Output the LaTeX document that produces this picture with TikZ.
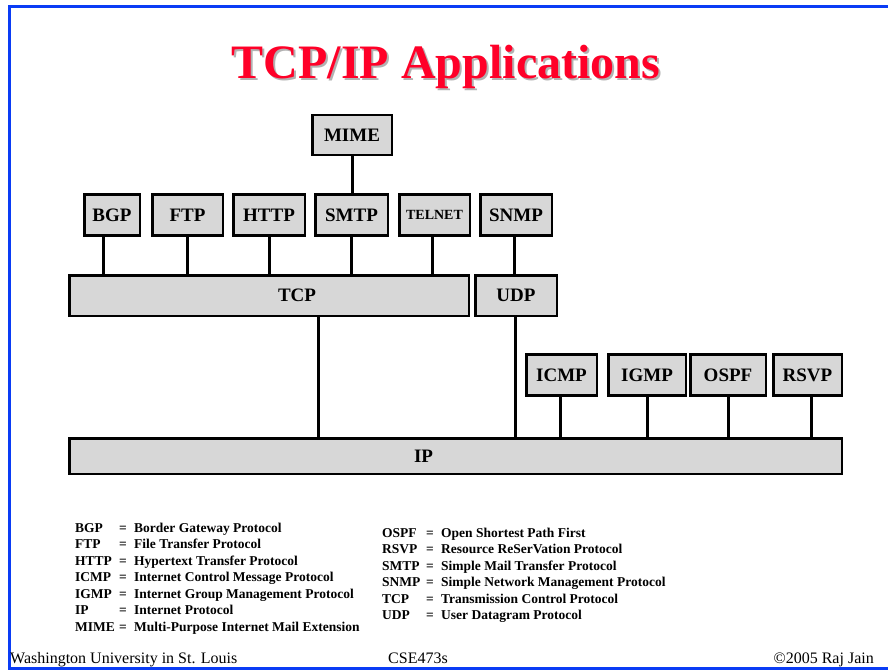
\documentclass[tikz,border=0pt]{standalone}
\usepackage{fontspec}
\setmainfont{Liberation Serif}
\usetikzlibrary{calc}
\definecolor{framebl}{RGB}{10,60,245}
\definecolor{titlered}{RGB}{255,0,40}
\definecolor{boxgray}{RGB}{215,215,215}
\newcommand{\legrow}[2]{\makebox[44pt][l]{#1}\makebox[15pt][l]{=}#2}
\begin{document}
\begin{tikzpicture}[x=1pt,y=-1pt,
  protbox/.style={draw=black,line width=2.5pt,fill=boxgray,inner sep=0pt,minimum height=41pt,font=\fontsize{19}{19}\selectfont\bfseries},
  link/.style={line width=3pt,draw=black},
  legtext/.style={anchor=base west,inner sep=0pt,font=\fontsize{13.5}{13.5}\selectfont\bfseries},
  foot/.style={inner sep=0pt,font=\fontsize{16}{16}\selectfont}]
\useasboundingbox (0,0) rectangle (888,671);
\fill[white] (0,0) rectangle (888,671);
\draw[framebl,line width=3pt] (888,7) -- (9,7) -- (9,668) -- (888,668);
% title
\node[anchor=base,inner sep=0pt,text=gray!60,font=\fontsize{48}{48}\selectfont\bfseries] (titleshadow) at (448,81) {TCP/IP Applications};
\node[anchor=base,inner sep=0pt,text=titlered,font=\fontsize{48}{48}\selectfont\bfseries] (title) at (446,79) {TCP/IP Applications};
% boxes
\node[protbox,minimum width=79.5pt,minimum height=40pt] (MIME) at (352,135) {MIME};
\node[protbox,minimum width=55.5pt] (BGP) at (112,215) {BGP};
\node[protbox,minimum width=70.5pt] (FTP) at (187.5,215) {FTP};
\node[protbox,minimum width=71.5pt] (HTTP) at (269,215) {HTTP};
\node[protbox,minimum width=72.5pt] (SMTP) at (351.5,215) {SMTP};
\node[protbox,minimum width=70.5pt,font=\fontsize{14}{14}\selectfont\bfseries] (TELNET) at (434.5,215) {TELNET};
\node[protbox,minimum width=71.5pt] (SNMP) at (516,215) {SNMP};
\node[protbox,minimum width=399.5pt,minimum height=40.5pt,label={[xshift=28pt,font=\fontsize{19}{19}\selectfont\bfseries]center:TCP}] (TCP) at (269,295.5) {};
\node[protbox,minimum width=81.5pt,minimum height=40.5pt] (UDP) at (516,295.5) {UDP};
\node[protbox,minimum width=70.5pt] (ICMP) at (561.5,375) {ICMP};
\node[protbox,minimum width=77.5pt] (IGMP) at (647,375) {IGMP};
\node[protbox,minimum width=75.5pt] (OSPF) at (728,375) {OSPF};
\node[protbox,minimum width=68.5pt] (RSVP) at (807.5,375) {RSVP};
\node[protbox,minimum width=772.5pt,minimum height=35.5pt,label={[xshift=-32pt,font=\fontsize{19}{19}\selectfont\bfseries]center:IP}] (IP) at (455.5,456) {};
% connectors
\draw[link] (MIME.south) -- (MIME.south |- SMTP.north);
\draw[link] ([xshift=-9pt]BGP.south) -- ([xshift=-9pt]BGP.south |- TCP.north);
\draw[link] (FTP.south) -- (FTP.south |- TCP.north);
\draw[link] (HTTP.south) -- (HTTP.south |- TCP.north);
\draw[link] (SMTP.south) -- (SMTP.south |- TCP.north);
\draw[link] ([xshift=-2.5pt]TELNET.south) -- ([xshift=-2.5pt]TELNET.south |- TCP.north);
\draw[link] ([xshift=-2pt]SNMP.south) -- ([xshift=-2pt]SNMP.south |- UDP.north);
\draw[link] ([xshift=49pt]TCP.south) -- ([xshift=49pt]TCP.south |- IP.north);
\draw[link] ([xshift=-1pt]UDP.south) -- ([xshift=-1pt]UDP.south |- IP.north);
\draw[link] ([xshift=-1.5pt]ICMP.south) -- ([xshift=-1.5pt]ICMP.south |- IP.north);
\draw[link] (IGMP.south) -- (IGMP.south |- IP.north);
\draw[link] (OSPF.south) -- (OSPF.south |- IP.north);
\draw[link] ([xshift=3.5pt]RSVP.south) -- ([xshift=3.5pt]RSVP.south |- IP.north);
% legend, left column
\node[legtext] (lg1) at (75,532) {\legrow{BGP}{Border Gateway Protocol}};
\node[legtext] (lg2) at (75,548.5) {\legrow{FTP}{File Transfer Protocol}};
\node[legtext] (lg3) at (75,565) {\legrow{HTTP}{Hypertext Transfer Protocol}};
\node[legtext] (lg4) at (75,581.5) {\legrow{ICMP}{Internet Control Message Protocol}};
\node[legtext] (lg5) at (75,598) {\legrow{IGMP}{Internet Group Management Protocol}};
\node[legtext] (lg6) at (75,614.5) {\legrow{IP}{Internet Protocol}};
\node[legtext] (lg7) at (75,631) {\legrow{MIME}{Multi-Purpose Internet Mail Extension}};
% legend, right column
\node[legtext] (rg1) at (382,537) {\legrow{OSPF}{Open Shortest Path First}};
\node[legtext] (rg2) at (382,553.5) {\legrow{RSVP}{Resource ReSerVation Protocol}};
\node[legtext] (rg3) at (382,570) {\legrow{SMTP}{Simple Mail Transfer Protocol}};
\node[legtext] (rg4) at (382,586.5) {\legrow{SNMP}{Simple Network Management Protocol}};
\node[legtext] (rg5) at (382,603) {\legrow{TCP}{Transmission Control Protocol}};
\node[legtext] (rg6) at (382,619.5) {\legrow{UDP}{User Datagram Protocol}};
% footer
\node[foot,anchor=base west] (fl) at (10,663) {Washington University in St. Louis};
\node[foot,anchor=base] (fc) at (418,663) {CSE473s};
\node[foot,anchor=base east] (fr) at (874,663) {©2005 Raj Jain};
\end{tikzpicture}
\end{document}
